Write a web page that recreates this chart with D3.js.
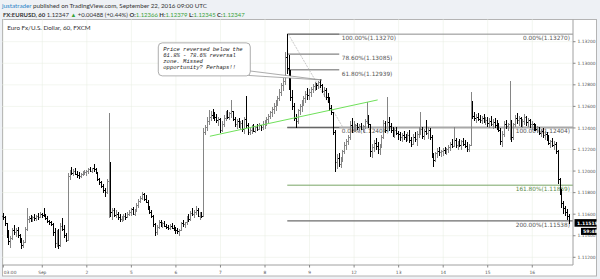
<!DOCTYPE html>
<html>
<head>
<meta charset="utf-8">
<script src="https://cdn.jsdelivr.net/npm/d3@7"></script>
<style>
  html, body { margin: 0; padding: 0; background: #eef1f5; }
  svg { display: block; }
</style>
</head>
<body>
<div id="chart"></div>
<script>
// EURUSD hourly bars.
// Each bar is [high, low, close] in pips above 1.1100; open = previous close.
const firstOpen = 58;

const aug31 = [
  [61, 55, 57], [58, 49, 51], [52, 38, 41], [45, 31, 35], [40, 29, 37], [47, 36, 45], [50, 41, 43],
  [47, 39, 45], [48, 38, 40], [42, 33, 35], [38, 28, 31], [36, 29, 34], [48, 33, 46], [66, 44, 55],
  [58, 52, 56], [59, 53, 55], [58, 53, 57], [60, 54, 56], [59, 54, 58], [61, 55, 57], [62, 56, 60],
];
const sep01 = [
  [61, 56, 59], [66, 57, 58], [60, 55, 56], [58, 52, 53], [55, 50, 52], [54, 49, 50], [52, 40, 43], [47, 29, 33],
  [45, 30, 42], [46, 28, 31], [52, 30, 49], [56, 44, 46], [50, 38, 40], [43, 34, 36], [98, 35, 95], [101, 92, 99],
  [104, 96, 98], [102, 95, 100], [103, 96, 97], [100, 94, 96], [99, 93, 95], [98, 94, 97], [100, 95, 98], [101, 96, 99],
];
const sep02 = [
  [101, 95, 100], [103, 97, 101], [104, 99, 100], [103, 98, 102], [107, 99, 101], [103, 97, 98], [99, 91, 92], [94, 87, 89],
  [91, 84, 86], [88, 80, 82], [84, 76, 80], [93, 79, 90], [154, 56, 107], [108, 57, 62], [66, 55, 63], [66, 57, 59],
  [64, 56, 60], [62, 55, 57], [60, 53, 55], [58, 53, 56], [60, 54, 58], [61, 55, 57], [62, 56, 60], [64, 58, 62],
];
const sep05 = [
  [66, 58, 64], [67, 59, 60], [65, 58, 63], [70, 62, 68], [74, 66, 72], [77, 70, 75], [81, 73, 78], [80, 72, 74],
  [78, 70, 71], [73, 64, 66], [68, 60, 62], [64, 56, 58], [59, 48, 50], [52, 40, 43], [50, 41, 48], [55, 46, 52],
  [55, 48, 50], [53, 47, 51], [54, 48, 49], [51, 46, 48], [50, 45, 47], [51, 45, 49], [52, 46, 47], [50, 44, 46],
];
const sep06 = [
  [48, 42, 45], [47, 42, 44], [46, 40, 45], [53, 44, 51], [55, 48, 50], [53, 47, 52], [58, 50, 56], [60, 53, 55],
  [63, 54, 61], [66, 58, 60], [64, 56, 62], [68, 59, 63], [66, 57, 58], [62, 55, 60], [62, 56, 58], [140, 57, 136],
  [143, 133, 140], [150, 137, 146], [157, 143, 150], [156, 146, 152], [158, 148, 151], [155, 146, 150], [153, 145, 147], [150, 142, 148],
];
const sep07 = [
  [149, 135, 138], [146, 136, 143], [152, 141, 149], [156, 146, 153], [157, 148, 150], [155, 147, 153], [166, 149, 155], [156, 146, 148],
  [150, 141, 143], [148, 139, 146], [149, 140, 142], [146, 138, 144], [147, 136, 139], [150, 134, 148], [170, 140, 142], [145, 133, 136],
  [141, 133, 138], [143, 134, 140], [144, 136, 137], [142, 135, 140], [144, 137, 139], [145, 138, 142], [143, 137, 140], [146, 138, 143],
];
const sep08 = [
  [147, 139, 145], [150, 142, 148], [153, 145, 151], [156, 148, 154], [159, 150, 157], [163, 153, 160], [166, 156, 164], [170, 160, 167],
  [176, 165, 173], [182, 170, 179], [186, 174, 183], [210, 180, 205], [227, 190, 195], [208, 175, 178], [194, 165, 168], [175, 157, 160],
  [163, 146, 149], [153, 140, 146], [158, 144, 156], [162, 152, 160], [166, 155, 163], [170, 160, 167], [174, 163, 171], [177, 166, 170],
];
const sep09 = [
  [176, 166, 173], [178, 169, 176], [181, 172, 178], [183, 174, 180], [182, 175, 179], [184, 176, 182], [185, 177, 179], [181, 172, 174],
  [178, 169, 175], [177, 166, 168], [172, 163, 166], [169, 156, 158], [161, 152, 154], [155, 133, 136], [138, 99, 108], [116, 102, 112],
  [117, 104, 106], [113, 103, 110], [120, 108, 118], [127, 116, 124], [130, 120, 127], [133, 124, 131], [146, 129, 142], [149, 135, 138],
];
const sep12 = [
  [146, 136, 139], [144, 136, 142], [145, 138, 140], [144, 137, 141], [145, 138, 139], [143, 136, 141], [148, 139, 146], [164, 144, 150],
  [152, 140, 143], [144, 113, 118], [125, 112, 122], [129, 118, 126], [131, 120, 123], [127, 116, 120], [125, 115, 124], [133, 121, 131],
  [147, 130, 144], [146, 135, 138], [169, 136, 145], [150, 137, 141], [145, 135, 138], [141, 132, 136], [140, 131, 138], [141, 133, 135],
];
const sep13 = [
  [137, 129, 134], [136, 128, 131], [135, 127, 133], [137, 129, 131], [134, 127, 130], [136, 128, 133], [138, 126, 128], [132, 122, 125],
  [134, 124, 131], [136, 127, 129], [137, 123, 134], [141, 131, 136], [155, 133, 139], [141, 130, 132], [139, 129, 137], [147, 133, 135],
  [141, 130, 138], [140, 129, 131], [133, 112, 115], [117, 104, 110], [118, 108, 116], [121, 112, 118], [122, 114, 117], [120, 113, 118],
];
const sep14 = [
  [121, 114, 119], [122, 116, 118], [121, 115, 120], [124, 117, 122], [127, 119, 125], [130, 121, 123], [141, 122, 128], [131, 121, 124],
  [128, 120, 126], [130, 122, 124], [129, 120, 127], [131, 123, 125], [129, 121, 123], [127, 118, 120], [125, 118, 124], [173, 123, 160],
  [165, 148, 151], [155, 146, 149], [153, 145, 150], [154, 146, 148], [152, 145, 147], [151, 144, 149], [153, 145, 146], [150, 143, 147],
];
const sep15 = [
  [150, 141, 144], [149, 140, 146], [151, 142, 143], [148, 139, 145], [149, 140, 142], [147, 138, 140], [145, 136, 138], [140, 124, 127],
  [137, 122, 134], [146, 132, 143], [147, 139, 141], [145, 137, 143], [184, 129, 145], [147, 127, 131], [145, 129, 143], [152, 141, 149],
  [154, 144, 147], [151, 142, 149], [150, 141, 144], [148, 140, 146], [153, 143, 150], [151, 142, 145], [149, 141, 147], [148, 140, 143],
];
const sep16 = [
  [146, 138, 143], [145, 137, 141], [144, 137, 139], [142, 135, 140], [141, 133, 135], [139, 132, 137], [140, 131, 133],
  [137, 129, 134], [136, 128, 130], [133, 124, 126], [129, 121, 127], [131, 122, 124], [128, 120, 125], [127, 116, 118],
  [120, 88, 92], [94, 78, 81], [83, 66, 70], [72, 60, 65], [68, 58, 62], [65, 55, 58], [60, 51, 52],
];

// one x tick per session start
const sessions = [
  { label: '03:00', bars: aug31 }, { label: 'Sep', bars: sep01 }, { label: '2', bars: sep02 },
  { label: '5', bars: sep05 }, { label: '6', bars: sep06 }, { label: '7', bars: sep07 },
  { label: '8', bars: sep08 }, { label: '9', bars: sep09 }, { label: '12', bars: sep12 },
  { label: '13', bars: sep13 }, { label: '14', bars: sep14 }, { label: '15', bars: sep15 },
  { label: '16', bars: sep16 },
];

const priceTicks = [1.112, 1.114, 1.116, 1.118, 1.120, 1.122, 1.124, 1.126, 1.128, 1.130, 1.132];

// fib drawings (bar index anchors + levels)
const fibHighBar = 153;     // Sep 8 ECB spike
const fibRetraceEndBar = 181;
const fibDiagonalEndBar = 183;
const retraceLevels = [
  { pct: '100.00%', price: 1.13270 },
  { pct: '78.60%', price: 1.13085 },
  { pct: '61.80%', price: 1.12939 },
  { pct: '0.00%', price: 1.12404 },
];
const extensionLevels = [
  { pct: '0.00%', price: 1.13270 },
  { pct: '100.00%', price: 1.12404 },
  { pct: '161.80%', price: 1.11869 },
  { pct: '200.00%', price: 1.11538 },
];

// green support line: [bar index, price]
const trendPoints = [[111.3, 1.12323], [201.7, 1.12660]];

const note = {
  lines: ['Price reversed below the', '61.8% - 78.6% reversal', 'zone. Missed', 'opportunity? Perhaps!!'],
  bar: 83.5, price: 1.13189,          // top-left corner of the box
  tipBar: 171.7, tipPrice: 1.12845,   // where the tail points
};

const lastPrice = 1.11519;
const countdown = '59:48';

const header1 = { user: 'justatrader', rest: ' published on TradingView.com, September 22, 2016 09:00 UTC' };
const header2 = [
  { t: 'FX:EURUSD, 60', bold: true, green: false },
  { t: ' 1.12347 ', bold: false, green: false },
  { t: '\u25B2', bold: false, green: true },
  { t: ' +0.00488 (+0.44%) ', bold: false, green: false },
  { t: 'O:', bold: true, green: false }, { t: '1.12366', bold: false, green: true },
  { t: ' H:', bold: true, green: false }, { t: '1.12379', bold: false, green: true },
  { t: ' L:', bold: true, green: false }, { t: '1.12345', bold: false, green: true },
  { t: ' C:', bold: true, green: false }, { t: '1.12347', bold: false, green: true },
];
const chartTitle = 'Euro Fx/U.S. Dollar, 60, FXCM';

// ---------------------------------------------------------------

const W = 600, H = 279;
const plot = { left: 2.5, right: 573, top: 19.5, bottom: 265 };
const pip = p => 1.11 + p / 10000;
const fmt = d3.format('.5f');

const bars = [];
const dayStarts = [];
let prev = pip(firstOpen);
sessions.forEach(s => {
  dayStarts.push({ i: bars.length, label: s.label });
  s.bars.forEach(([h, l, c]) => {
    bars.push({ i: bars.length, o: prev, h: pip(h), l: pip(l), c: pip(c) });
    prev = pip(c);
  });
});

const x = d3.scaleLinear().domain([0, bars.length - 1]).range([3.3, 569.4]);
const y = d3.scaleLinear().domain([1.112, 1.132]).range([257.3, 41.7]);

const svg = d3.select('#chart').append('svg')
  .attr('width', W).attr('height', H)
  .attr('viewBox', `0 0 ${W} ${H}`);

svg.append('rect').attr('width', W).attr('height', H).attr('fill', '#eef1f5');
svg.append('rect')
  .attr('x', 2.5).attr('y', 19.5).attr('width', 594).attr('height', 256.5)
  .attr('fill', '#fff').attr('stroke', '#b4b4b4');

const defs = svg.append('defs');
defs.append('clipPath').attr('id', 'plotClip').append('rect')
  .attr('x', plot.left).attr('y', plot.top)
  .attr('width', plot.right - plot.left).attr('height', plot.bottom - plot.top);

function fitText(sel, width) {
  const w = sel.node().getComputedTextLength();
  const fs = parseFloat(sel.attr('font-size'));
  sel.attr('font-size', (fs * width / w).toFixed(2));
}

// header
const h1 = svg.append('text').attr('x', 2).attr('y', 8)
  .attr('font-family', 'Lato, "Open Sans", sans-serif').attr('font-size', 7).attr('fill', '#333');
h1.append('tspan').attr('fill', '#2c84c8').text(header1.user);
h1.append('tspan').text(header1.rest);
fitText(h1, 205);

const h2 = svg.append('text').attr('x', 3).attr('y', 16.5)
  .attr('font-family', 'Lato, "Open Sans", sans-serif').attr('font-size', 7).attr('fill', '#333');
h2.selectAll('tspan').data(header2).join('tspan')
  .attr('font-weight', d => d.bold ? 'bold' : null)
  .attr('fill', d => d.green ? '#3aa33a' : '#333')
  .text(d => d.t);
fitText(h2, 242);

// grid
const grid = svg.append('g').attr('stroke', '#e6ece0').attr('stroke-dasharray', '1,1');
grid.selectAll('line.v').data(dayStarts).join('line')
  .attr('x1', d => x(d.i)).attr('x2', d => x(d.i))
  .attr('y1', plot.top).attr('y2', plot.bottom);
grid.selectAll('line.h').data(priceTicks).join('line')
  .attr('x1', plot.left).attr('x2', plot.right)
  .attr('y1', d => y(d)).attr('y2', d => y(d));

// title
const title = svg.append('text').attr('x', 7.3).attr('y', 30.3)
  .attr('font-family', 'Lato, "Open Sans", sans-serif').attr('font-size', 7).attr('fill', '#333')
  .text(chartTitle);
fitText(title, 83.5);

const main = svg.append('g').attr('clip-path', 'url(#plotClip)');

// fib extension (long lines)
const extStyle = {
  '0.00%': { stroke: '#8c8c8c', width: 1, text: '#555' },
  '100.00%': { stroke: '#a8a8a8', width: 2, text: '#555' },
  '161.80%': { stroke: '#79a565', width: 1, text: '#5d8a4c' },
  '200.00%': { stroke: '#6c6c6c', width: 1.3, text: '#555' },
};
main.append('g').selectAll('line').data(extensionLevels).join('line')
  .attr('x1', x(fibHighBar)).attr('x2', plot.right)
  .attr('y1', d => y(d.price)).attr('y2', d => y(d.price))
  .attr('stroke', d => extStyle[d.pct].stroke)
  .attr('stroke-width', d => extStyle[d.pct].width);
main.append('g').selectAll('line').data(retraceLevels).join('line')
  .attr('x1', x(fibHighBar)).attr('x2', x(fibRetraceEndBar))
  .attr('y1', d => y(d.price)).attr('y2', d => y(d.price))
  .attr('stroke', '#666').attr('stroke-width', 1);
main.append('line')
  .attr('x1', x(fibHighBar) + 1).attr('y1', y(retraceLevels[0].price))
  .attr('x2', x(fibDiagonalEndBar)).attr('y2', y(retraceLevels[3].price))
  .attr('stroke', '#b0b0b0').attr('stroke-width', 0.7).attr('stroke-dasharray', '2,1');

const fibFont = '"DejaVu Sans", Verdana, sans-serif';
main.append('g').selectAll('text').data(retraceLevels).join('text')
  .attr('x', x(fibRetraceEndBar) + 2.5).attr('y', d => y(d.price) + 5.8)
  .attr('font-family', fibFont).attr('font-size', 5.8).attr('fill', '#555')
  .text(d => `${d.pct}(${fmt(d.price)})`);
main.append('g').selectAll('text').data(extensionLevels).join('text')
  .attr('x', plot.right - 3).attr('y', d => y(d.price) + 5.8)
  .attr('text-anchor', 'end')
  .attr('font-family', fibFont).attr('font-size', 5.8)
  .attr('fill', d => extStyle[d.pct].text)
  .text(d => `${d.pct}(${fmt(d.price)})`);

// OHLC bars
main.append('g').attr('shape-rendering', 'crispEdges').attr('fill', 'none')
  .selectAll('path').data(bars).join('path')
  .attr('d', d => {
    const cx = x(d.i);
    return `M${cx},${y(d.h)}V${y(d.l)}M${cx - 1},${y(d.o)}H${cx}M${cx},${y(d.c)}H${cx + 1}`;
  })
  .attr('stroke', d => d.c >= d.o ? '#858585' : '#000')
  .attr('stroke-width', 1);

// trend line
main.append('line')
  .attr('x1', x(trendPoints[0][0])).attr('y1', y(trendPoints[0][1]))
  .attr('x2', x(trendPoints[1][0])).attr('y2', y(trendPoints[1][1]))
  .attr('stroke', '#6fe05a').attr('stroke-width', 1);

// callout
const bx = x(note.bar), by = y(note.price), bw = 92, bh = 33;
const tipX = x(note.tipBar), tipY = y(note.tipPrice);
const callout = main.append('g');
callout.append('path')
  .attr('d', `M${bx + bw - 1},${by + bh - 5}L${tipX},${tipY}L${bx + bw - 3},${by + bh - 0.5}`)
  .attr('fill', '#fff').attr('stroke', '#888').attr('stroke-width', 0.7);
callout.append('rect')
  .attr('x', bx).attr('y', by).attr('width', bw).attr('height', bh).attr('rx', 4)
  .attr('fill', '#fff').attr('stroke', '#999').attr('stroke-width', 0.8);
callout.append('text')
  .attr('font-family', '"Liberation Mono", "Courier New", monospace')
  .attr('font-style', 'italic').attr('font-size', 5.5).attr('fill', '#222')
  .selectAll('tspan').data(note.lines).join('tspan')
  .attr('x', bx + 5).attr('y', (d, k) => by + 8.5 + k * 5.8)
  .text(d => d);

// frame lines
svg.append('line').attr('x1', plot.right).attr('x2', plot.right)
  .attr('y1', plot.top).attr('y2', plot.bottom).attr('stroke', '#a0a0a0');
svg.append('line').attr('x1', plot.left).attr('x2', plot.right)
  .attr('y1', plot.bottom).attr('y2', plot.bottom).attr('stroke', '#a0a0a0');

// price axis
const axisFont = '"DejaVu Sans", Verdana, sans-serif';
const yAxis = svg.append('g');
yAxis.selectAll('line').data(priceTicks).join('line')
  .attr('x1', plot.right).attr('x2', plot.right + 2.5)
  .attr('y1', d => y(d)).attr('y2', d => y(d)).attr('stroke', '#888');
yAxis.selectAll('text').data(priceTicks).join('text')
  .attr('x', plot.right + 4.5).attr('y', d => y(d) + 1.6)
  .attr('font-family', axisFont).attr('font-size', 4.4).attr('fill', '#555')
  .text(d => fmt(d));

// time axis (first label sits at the left edge, so start-anchor it)
const xAxis = svg.append('g');
xAxis.selectAll('line').data(dayStarts).join('line')
  .attr('x1', d => x(d.i)).attr('x2', d => x(d.i))
  .attr('y1', plot.bottom).attr('y2', plot.bottom + 2.5).attr('stroke', '#888');
xAxis.selectAll('text').data(dayStarts).join('text')
  .attr('x', (d, k) => k === 0 ? x(d.i) + 0.5 : x(d.i)).attr('y', 273.5)
  .attr('text-anchor', (d, k) => k === 0 ? 'start' : 'middle')
  .attr('font-family', axisFont).attr('font-size', 4.4).attr('fill', '#555')
  .text(d => d.label);

// last price + countdown tags
const ly = y(lastPrice);
svg.append('rect').attr('x', 574.5).attr('y', ly - 3.8).attr('width', 22).attr('height', 7.6).attr('fill', '#000');
svg.append('text').attr('x', 577).attr('y', ly + 1.7)
  .attr('font-family', axisFont).attr('font-size', 4.6).attr('font-weight', 'bold').attr('fill', '#fff')
  .text(fmt(lastPrice));
svg.append('rect').attr('x', 581).attr('y', ly + 5).attr('width', 15.5).attr('height', 7).attr('fill', '#000');
svg.append('text').attr('x', 583).attr('y', ly + 10.3)
  .attr('font-family', axisFont).attr('font-size', 4.6).attr('font-weight', 'bold').attr('fill', '#fff')
  .text(countdown);
</script>
</body>
</html>
